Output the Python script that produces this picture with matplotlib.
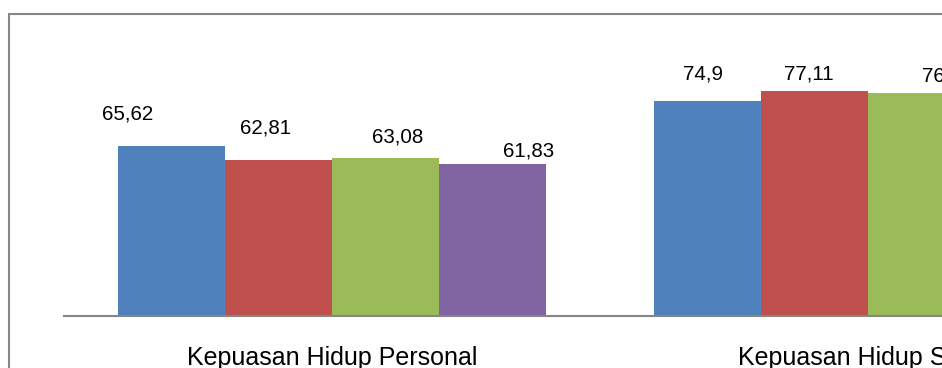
import matplotlib
matplotlib.use("Agg")
import matplotlib.pyplot as plt
from matplotlib.patches import Rectangle

plt.rcParams['font.family'] = ['Liberation Sans', 'DejaVu Sans']

# Data
categories = ["Kepuasan Hidup Personal", "Kepuasan Hidup Sosial"]
series_a = [65.62, 74.90]
series_b = [62.81, 77.11]
series_c = [63.08, 76.56]
series_d = [61.83, 74.60]

colors = ["#4F81BD", "#C0504D", "#9BBB59", "#8064A2"]

# Hand-placed value label offsets (pixels from each bar's top centre)
label_offsets = [
    [(-44, 32), (-4, 27)],
    [(-13, 32), (-6, 17)],
    [(12, 21), (26, 17)],
    [(36, 13), (0, 15)],
]

W, H, DPI = 942, 368, 100
fig = plt.figure(figsize=(W / DPI, H / DPI), dpi=DPI)
fig.patch.set_facecolor("white")

# Plot area: wider than the canvas, so the right part runs off the edge
left_px, right_px = 64, 1136
bottom_px, top_px = H - 316, H - 20
ax = fig.add_axes([left_px / W, bottom_px / H,
                   (right_px - left_px) / W, (top_px - bottom_px) / H])

ymin = 30.4
ymax = ymin + (top_px - bottom_px) / 4.823
ax.set_ylim(ymin, ymax)
ax.set_xlim(-0.5, len(categories) - 0.5)

all_series = [series_a, series_b, series_c, series_d]
bw = 0.2
for i, (vals, col) in enumerate(zip(all_series, colors)):
    xs = [c + (i - 1.5) * bw for c in range(len(categories))]
    ax.bar(xs, [v - ymin for v in vals], bottom=ymin, width=bw, color=col,
           edgecolor="none", zorder=2)
    for j, (x, v) in enumerate(zip(xs, vals)):
        dx, dy = label_offsets[i][j]
        ax.annotate(f"{v:g}".replace(".", ","), xy=(x, v),
                    xytext=(dx, dy), textcoords="offset pixels",
                    ha="center", va="center", fontsize=14.8, color="black",
                    annotation_clip=True)

ax.set_xticks(range(len(categories)))
ax.set_xticklabels(categories, fontsize=18)
ax.tick_params(axis="x", length=0, pad=21.5)
ax.set_yticks([])
for s in ["top", "right", "left"]:
    ax.spines[s].set_visible(False)
ax.spines["bottom"].set_color("#868686")
ax.spines["bottom"].set_linewidth(1.5)
ax.spines["bottom"].set_zorder(3)
ax.patch.set_alpha(0)

# Outer chart border
fig.add_artist(Rectangle((9 / W, -0.2), 2.0, (H - 14) / H + 0.2,
                         transform=fig.transFigure, fill=False,
                         edgecolor="#868686", linewidth=1.5, zorder=5))

fig.savefig("out.png", dpi=DPI)
